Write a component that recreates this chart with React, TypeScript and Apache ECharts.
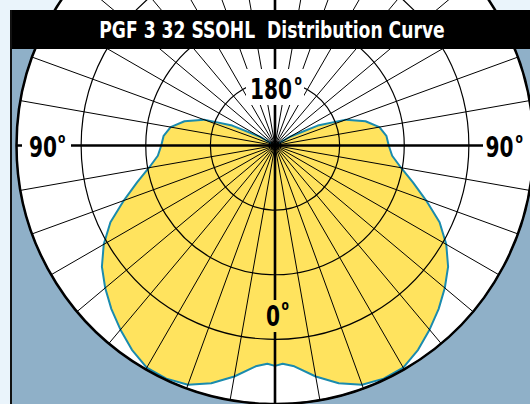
import React, { useEffect, useRef } from "react";
import * as echarts from "echarts";

// ---- data ----
const TITLE = "PGF 3 32 SSOHL  Distribution Curve";
// angle from nadir (deg) -> relative intensity (outer ring = 400)
const ANGLES = [0, 2, 5, 10, 15, 20, 25, 30, 35, 40, 45, 50, 55, 60, 65, 70, 75, 80, 85, 90, 95, 100, 105, 110, 115, 120, 125];
const INTENSITY = [341, 338, 343, 363, 381, 394, 398, 397, 386, 372, 358, 343, 327, 306, 281, 249, 221, 198, 182, 176, 173, 164, 145, 117, 73, 28, 0];
const RADIUS_MAX = 400;
const RING_STEP = 100;
const SPOKE_STEP = 10;
const LABEL_LEFT = "90";
const LABEL_RIGHT = "90";
const LABEL_TOP = "180";
const LABEL_BOTTOM = "0";
const DEG = "o";

const FONT = '"Liberation Sans Narrow", "DejaVu Sans Condensed", "Arial Narrow", sans-serif';
const YELLOW = "#FFE35E";

export default function App() {
  const ref = useRef<HTMLDivElement>(null);
  useEffect(() => {
    document.body.style.margin = "0";
    const chart = echarts.init(ref.current!, null, { renderer: "svg" });

    // one side is the mirror image of the other (symmetric luminaire)
    const rightSide = ANGLES.slice(1)
      .map((a, i) => [INTENSITY[i + 1], 360 - a])
      .reverse();
    const leftSide = ANGLES.map((a, i) => [INTENSITY[i], a]);
    const curve = [...rightSide, ...leftSide];

    const digit = (text: string, x: number, y: number) => ({
      type: "text",
      x,
      y,
      z: 31,
      scaleX: 0.8,
      style: {
        text,
        fill: "#000",
        fontFamily: FONT,
        fontWeight: "bold",
        fontSize: 28,
        textAlign: "right",
        textVerticalAlign: "middle",
      },
    });
    const deg = (x: number, y: number) => ({
      type: "text",
      x,
      y,
      z: 31,
      scaleX: 0.85,
      style: {
        text: DEG,
        fill: "#000",
        fontFamily: FONT,
        fontWeight: "bold",
        fontSize: 14,
        textAlign: "left",
        textVerticalAlign: "middle",
      },
    });
    const box = (x: number, y: number, w: number, h: number, fill: string) => ({
      type: "rect",
      z: 30,
      shape: { x, y, width: w, height: h },
      style: { fill },
    });

    chart.setOption({
      animation: false,
      backgroundColor: "#EAF4FB",
      polar: { center: [275, 145.5], radius: 258.5 },
      angleAxis: {
        type: "value",
        min: 0,
        max: 360,
        interval: SPOKE_STEP,
        startAngle: 270,
        clockwise: true,
        z: 5,
        axisLine: { show: true, lineStyle: { color: "#000", width: 2.5 } },
        axisTick: { show: false },
        axisLabel: { show: false },
        splitLine: { show: true, lineStyle: { color: "#000", width: 1 } },
      },
      radiusAxis: {
        type: "value",
        min: 0,
        max: RADIUS_MAX,
        interval: RING_STEP,
        z: 5,
        axisLine: { show: false },
        axisTick: { show: false },
        axisLabel: { show: false },
        splitLine: { show: true, lineStyle: { color: "#000", width: 1.2 } },
      },
      series: [
        {
          type: "line",
          coordinateSystem: "polar",
          data: curve,
          symbol: "none",
          silent: true,
          z: 1,
          lineStyle: { color: "#1A8BAE", width: 2 },
          areaStyle: { color: YELLOW, opacity: 1 },
        },
        {
          type: "line",
          coordinateSystem: "polar",
          data: [[RADIUS_MAX, 90], [RADIUS_MAX, 270]],
          symbol: "none",
          silent: true,
          z: 6,
          lineStyle: { color: "#000", width: 2.6 },
        },
        {
          type: "line",
          coordinateSystem: "polar",
          data: [[RADIUS_MAX, 0], [RADIUS_MAX, 180]],
          symbol: "none",
          silent: true,
          z: 6,
          lineStyle: { color: "#000", width: 2.6 },
        },
      ],
      graphic: [
        { type: "rect", z: -20, shape: { x: 10, y: 10, width: 520, height: 394 }, style: { fill: "#8FB0C8" } },
        { type: "circle", z: -19, shape: { cx: 275, cy: 145.5, r: 258.5 }, style: { fill: "#fff" } },
        { type: "rect", z: 40, shape: { x: 10, y: 10, width: 520, height: 39 }, style: { fill: "#000" } },
        { type: "rect", z: 40, shape: { x: 10, y: 10, width: 2, height: 394 }, style: { fill: "#111" } },
        {
          type: "text",
          x: 272,
          y: 30,
          z: 41,
          scaleX: 0.83,
          style: {
            text: TITLE,
            fill: "#fff",
            fontFamily: FONT,
            fontWeight: "bold",
            fontSize: 23,
            textAlign: "center",
            textVerticalAlign: "middle",
          },
        },
        box(22, 132, 49, 28, "#fff"),
        box(483, 132, 47, 28, "#fff"),
        box(246, 69, 58, 36, "#fff"),
        box(265, 300, 25, 32, YELLOW),
        digit(LABEL_LEFT, 57, 147),
        deg(58, 138),
        digit(LABEL_RIGHT, 513.5, 147),
        deg(515.5, 138),
        digit(LABEL_TOP, 292, 89),
        deg(294.5, 80),
        digit(LABEL_BOTTOM, 280, 316.5),
        deg(281.5, 305.5),
      ],
    });
    return () => chart.dispose();
  }, []);
  return <div ref={ref} style={{ width: 530, height: 404 }} />;
}
